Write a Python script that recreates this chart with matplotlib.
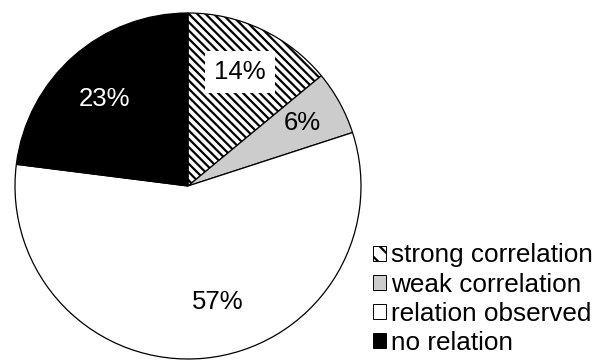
import matplotlib
matplotlib.use("Agg")
import matplotlib.pyplot as plt
from matplotlib.patches import Patch

plt.rcParams['font.family'] = ['Liberation Sans', 'DejaVu Sans']
plt.rcParams['hatch.linewidth'] = 1.6
plt.rcParams['hatch.color'] = '#666666'

categories = ['strong correlation', 'weak correlation', 'relation observed', 'no relation']
shares = [14, 6, 57, 23]
labels = ['14%', '6%', '57%', '23%']
colors = ['white', '#cccccc', 'white', 'black']
hatches = ['\\\\\\\\', '', '', '']

fig = plt.figure(figsize=(6.01, 3.6), dpi=100)
# pie centre ~ (188,186) px, radius ~173 px
ax = fig.add_axes([15 / 601, 1 / 360, 346 / 601, 346 / 360])

wedges, _ = ax.pie(shares, colors=colors, startangle=90, counterclock=False,
                   radius=1, wedgeprops=dict(edgecolor='black', linewidth=0.9))
for w, h in zip(wedges, hatches):
    w.set_hatch(h)
ax.set_xlim(-1, 1)
ax.set_ylim(-1, 1)
ax.set_aspect('equal')
ax.axis('off')

# label positions in pie coordinates
label_pos = [(0.30, 0.66), (0.66, 0.365), (0.173, -0.67), (-0.48, 0.504)]
for (x, y), lab, c in zip(label_pos, labels, colors):
    kw = dict(ha='center', va='center', fontsize=18.5)
    if c == 'black':
        kw['color'] = 'white'
    if lab == '14%':
        kw['bbox'] = dict(facecolor='white', edgecolor='none', boxstyle='square,pad=0.35')
    ax.text(x, y, lab, **kw)

handles = [Patch(facecolor=c, edgecolor='black', hatch=h[:2], linewidth=0.7)
           for c, h in zip(colors, hatches)]
fig.legend(handles, categories, loc='lower left', bbox_to_anchor=(373 / 601, 5 / 360),
           frameon=False, fontsize=18.8, handlelength=0.5, handleheight=0.5,
           handletextpad=0.2, labelspacing=0.2, borderaxespad=0, borderpad=0)

fig.savefig('out.png', dpi=100)
